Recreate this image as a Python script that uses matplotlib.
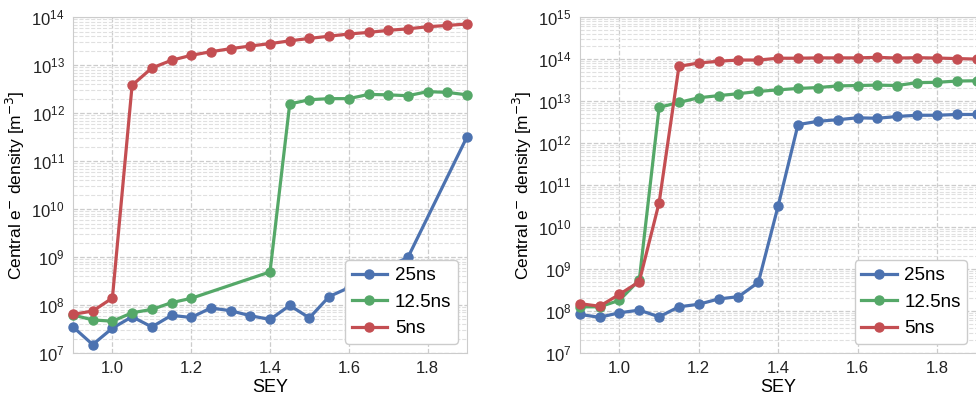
import numpy as np
import matplotlib
matplotlib.use('Agg')
import matplotlib.pyplot as plt
from matplotlib.ticker import NullFormatter, FixedLocator

# SEY values
sey = [0.9, 0.95, 1.0, 1.05, 1.1, 1.15, 1.2, 1.25, 1.3, 1.35, 1.4,
       1.45, 1.5, 1.55, 1.6, 1.65, 1.7, 1.75, 1.8, 1.85, 1.9]

# left panel
left_25_x = [0.9, 0.95, 1.0, 1.05, 1.1, 1.15, 1.2, 1.25, 1.3, 1.35, 1.4,
             1.45, 1.5, 1.55, 1.6, 1.65, 1.7, 1.75, 1.9]
left_25 = [3.5e7, 1.5e7, 3.3e7, 5.7e7, 3.5e7, 6.1e7, 5.5e7, 8.7e7, 7.6e7, 6.0e7, 5.0e7,
           9.8e7, 5.4e7, 1.5e8, 2.3e8, 3.5e8, 6.3e8, 9.8e8, 3.2e11]
left_12_x = [0.9, 0.95, 1.0, 1.05, 1.1, 1.15, 1.2, 1.4,
             1.45, 1.5, 1.55, 1.6, 1.65, 1.7, 1.75, 1.8, 1.85, 1.9]
left_12 = [6.2e7, 4.9e7, 4.6e7, 6.9e7, 8.1e7, 1.12e8, 1.38e8, 4.9e8,
           1.55e12, 1.9e12, 2.0e12, 2.0e12, 2.45e12, 2.4e12, 2.3e12, 2.8e12, 2.7e12, 2.4e12]
left_5 = [6.4e7, 7.5e7, 1.4e8, 3.8e12, 8.7e12, 1.26e13, 1.6e13, 1.9e13, 2.2e13, 2.5e13, 2.8e13,
          3.2e13, 3.6e13, 4.0e13, 4.45e13, 4.8e13, 5.3e13, 5.7e13, 6.3e13, 6.7e13, 7.2e13]

# right panel
right_25 = [8.3e7, 7.1e7, 9.1e7, 1.05e8, 7.3e7, 1.26e8, 1.45e8, 1.94e8, 2.2e8, 4.8e8, 3.2e10,
            2.75e12, 3.3e12, 3.6e12, 4.0e12, 3.9e12, 4.3e12, 4.6e12, 4.6e12, 4.8e12, 4.8e12]
right_12 = [1.26e8, 1.26e8, 1.8e8, 5.5e8, 7.1e12, 9.3e12, 1.2e13, 1.35e13, 1.5e13, 1.7e13, 1.85e13,
            2.0e13, 2.1e13, 2.3e13, 2.35e13, 2.4e13, 2.35e13, 2.75e13, 2.8e13, 3.0e13, 3.05e13]
right_5 = [1.5e8, 1.3e8, 2.5e8, 5.0e8, 3.8e10, 6.7e13, 8.1e13, 8.9e13, 9.5e13, 9.5e13, 1.05e14,
           1.05e14, 1.07e14, 1.07e14, 1.07e14, 1.1e14, 1.06e14, 1.08e14, 1.06e14, 1.03e14, 1.0e14]

blue, green, red = '#4C72B0', '#55A868', '#C44E52'

plt.rcParams['font.family'] = ['Liberation Sans', 'DejaVu Sans']

fig = plt.figure(figsize=(9.76, 3.98), dpi=100)
ax1 = fig.add_axes([0.0748, 0.113, 0.4037, 0.844])
ax2 = fig.add_axes([0.594, 0.113, 0.4066, 0.844])

panels = [
    (ax1, [(left_25_x, left_25, blue, '25ns'), (left_12_x, left_12, green, '12.5ns'), (sey, left_5, red, '5ns')], (7, 14)),
    (ax2, [(sey, right_25, blue, '25ns'), (sey, right_12, green, '12.5ns'), (sey, right_5, red, '5ns')], (7, 15)),
]

for ax, series, (lo, hi) in panels:
    for x, y, c, lab in series:
        ax.plot(x, y, '-o', color=c, lw=2.3, ms=6.5, label=lab, clip_on=False, zorder=3)
    ax.set_yscale('log')
    ax.set_xlim(0.9, 1.9)
    ax.set_ylim(10.0**lo, 10.0**hi)
    ax.set_xticks([1.0, 1.2, 1.4, 1.6, 1.8])
    # only ticks inside the view
    ax.yaxis.set_major_locator(FixedLocator([10.0**k for k in range(lo, hi + 1)]))
    ax.yaxis.set_minor_locator(FixedLocator([m * 10.0**k for k in range(lo, hi) for m in range(2, 10)]))
    ax.yaxis.set_minor_formatter(NullFormatter())
    ax.grid(True, which='major', ls='--', color='#cccccc', lw=0.9)
    ax.grid(True, which='minor', ls='--', color='#e0e0e0', lw=0.8)
    ax.set_axisbelow(True)
    for s in ax.spines.values():
        s.set_color('#cccccc')
    ax.tick_params(which='both', length=0, labelsize=12, colors='#222222', pad=6)
    ax.set_xlabel('SEY', fontsize=13, labelpad=2)
    ax.set_ylabel('Central e$^{-}$ density [m$^{-3}$]', fontsize=12.5, labelpad=3)
    leg = ax.legend(loc='lower right', fontsize=13.5, frameon=True, borderaxespad=0.5,
                    handlelength=1.9, handletextpad=0.4, labelspacing=0.5,
                    borderpad=0.35)
    leg.get_frame().set_edgecolor('#cccccc')
    leg.get_frame().set_facecolor('white')
    leg.get_frame().set_alpha(1)

fig.savefig('out.png', dpi=100)
